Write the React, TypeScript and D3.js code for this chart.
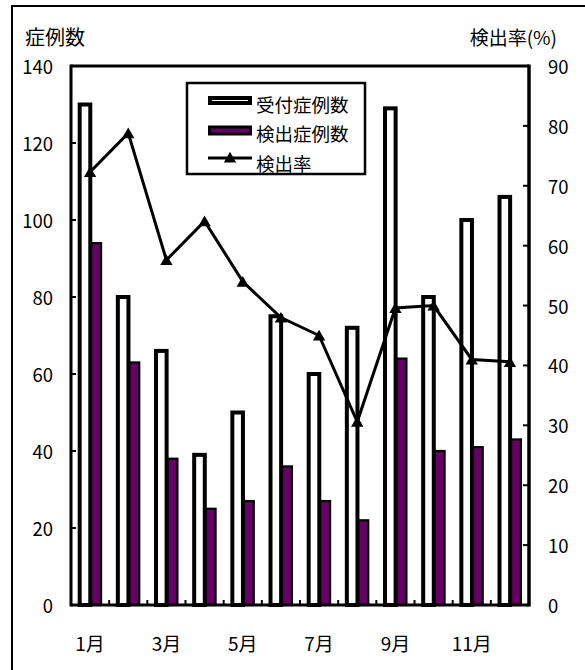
import React from "react";
import * as d3 from "d3";

const months = ["1月", "2月", "3月", "4月", "5月", "6月", "7月", "8月", "9月", "10月", "11月", "12月"];
const received = [130, 80, 66, 39, 50, 75, 60, 72, 129, 80, 100, 106];
const detected = [94, 63, 38, 25, 27, 36, 27, 22, 64, 40, 41, 43];
const rate = [72.3, 78.8, 57.6, 64.1, 54.0, 48.0, 45.0, 30.6, 49.6, 50.0, 41.0, 40.6];
const leftTicks = [0, 20, 40, 60, 80, 100, 120, 140];
const rightTicks = [0, 10, 20, 30, 40, 50, 60, 70, 80, 90];
const xLabelMonths = ["1月", "3月", "5月", "7月", "9月", "11月"];
const legendItems = ["受付症例数", "検出症例数", "検出率"];

const W = 585;
const H = 670;
const PL = 71;
const PR = 529;
const PT = 66;
const PB = 605;
const PURPLE = "#660066";
const FONT = "'Noto Sans CJK JP', 'Noto Sans', sans-serif";

export default function App() {
  const x = d3.scaleBand<string>().domain(months).range([PL, PR]).padding(0);
  const yL = d3.scaleLinear().domain([0, 140]).range([PB, PT]);
  const yR = d3.scaleLinear().domain([0, 90]).range([PB, PT]);
  const bw = x.bandwidth();
  const cx = (m: string) => (x(m) as number) + bw / 2;

  const line = d3
    .line<number>()
    .x((_, i) => cx(months[i]))
    .y((d) => yR(d));
  const tri = d3.symbol(d3.symbolTriangle, 66)() as string;

  const boundaries = d3.range(1, months.length).map((i) => PL + i * bw);

  // legend
  const lgX = 187;
  const lgY = 83;
  const lgW = 178;
  const lgH = 91;
  const rowY = [100.5, 130.5, 158];
  const textY = [103.5, 133, 162.5];

  return (
    <div style={{ position: "absolute", left: 0, top: 0 }}>
      <svg width={W} height={H} style={{ display: "block", fontFamily: FONT }}>
        <rect x={0} y={0} width={W} height={H} fill="#fff" />
        {/* outer frame */}
        <rect x={12} y={6} width={800} height={900} fill="none" stroke="#000" strokeWidth={2} />

        {/* titles */}
        <text x={25} y={36.5} fontSize={20} dominantBaseline="central" fill="#000">
          症例数
        </text>
        <text x={557} y={36.5} fontSize={19} dominantBaseline="central" textAnchor="end" fill="#000">
          検出率(%)
        </text>

        {/* bars */}
        {months.map((m, i) => (
          <rect
            key={"r" + m}
            x={cx(m) - 10.4}
            y={yL(received[i])}
            width={10.6}
            height={PB - yL(received[i])}
            fill="#fff"
            stroke="#000"
            strokeWidth={4}
          />
        ))}
        {months.map((m, i) => (
          <rect
            key={"d" + m}
            x={cx(m) + 1.2}
            y={yL(detected[i])}
            width={9.8}
            height={PB - yL(detected[i])}
            fill={PURPLE}
            stroke="#000"
            strokeWidth={2.2}
          />
        ))}

        {/* plot frame */}
        <line x1={PL} x2={PR} y1={PT} y2={PT} stroke="#000" strokeWidth={3} />
        <line x1={PL} x2={PL} y1={PT - 1.5} y2={PB + 1.5} stroke="#000" strokeWidth={3} />
        <line x1={PR} x2={PR} y1={PT - 1.5} y2={PB + 1.5} stroke="#000" strokeWidth={3.5} />
        <line x1={PL} x2={PR} y1={PB} y2={PB} stroke="#000" strokeWidth={3} />

        {/* left ticks */}
        {leftTicks.map((t) => (
          <g key={"lt" + t}>
            <line x1={PL} x2={PL + 5} y1={yL(t)} y2={yL(t)} stroke="#000" strokeWidth={2} />
            <text x={53} y={yL(t)} fontSize={18.5} textAnchor="end" dominantBaseline="central" fill="#000">
              {t}
            </text>
          </g>
        ))}
        {/* right ticks */}
        {rightTicks.map((t) => (
          <g key={"rt" + t}>
            <line x1={PR - 6} x2={PR} y1={yR(t)} y2={yR(t)} stroke="#000" strokeWidth={2} />
            <text x={548} y={yR(t)} fontSize={18.5} dominantBaseline="central" fill="#000">
              {t}
            </text>
          </g>
        ))}
        {/* category ticks */}
        {boundaries.map((b, i) => (
          <line key={"ct" + i} x1={b} x2={b} y1={PB} y2={PB - 5} stroke="#000" strokeWidth={2} />
        ))}
        {/* x labels */}
        {xLabelMonths.map((m) => (
          <text key={"xl" + m} x={cx(m)} y={642} fontSize={19} textAnchor="middle" dominantBaseline="central" fill="#000">
            {m}
          </text>
        ))}

        {/* rate line */}
        <path d={line(rate) as string} fill="none" stroke="#000" strokeWidth={3} />
        {rate.map((r, i) => (
          <path key={"mk" + i} d={tri} transform={`translate(${cx(months[i])},${yR(r) + 1.5})`} fill="#000" />
        ))}

        {/* legend */}
        <rect x={lgX} y={lgY} width={lgW} height={lgH} fill="#fff" stroke="#000" strokeWidth={2.5} />
        <rect x={210} y={rowY[0] - 2.5} width={40} height={5} fill="#fff" stroke="#000" strokeWidth={4} />
        <rect x={209.5} y={rowY[1] - 3.5} width={41} height={7} fill={PURPLE} stroke="#000" strokeWidth={3} />
        <line x1={208} x2={252} y1={rowY[2]} y2={rowY[2]} stroke="#000" strokeWidth={3} />
        <path d={tri} transform={`translate(230,${rowY[2] + 1})`} fill="#000" />
        {legendItems.map((t, i) => (
          <text key={"lg" + t} x={256} y={textY[i]} fontSize={18.5} dominantBaseline="central" fill="#000">
            {t}
          </text>
        ))}
      </svg>
    </div>
  );
}
